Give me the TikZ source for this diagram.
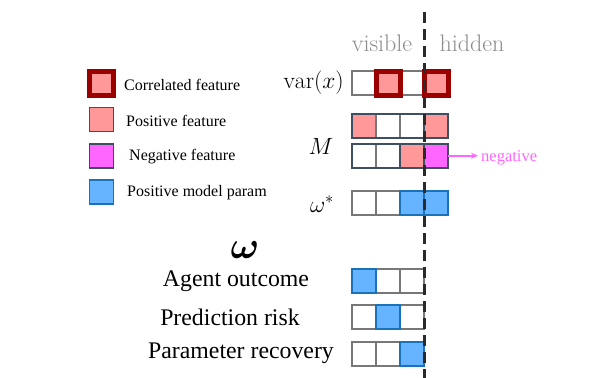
\RequirePackage{fix-cm}
\documentclass[tikz,border=0pt]{standalone}
\usepackage{amsmath}
\usepackage{fontspec}
\newfontfamily\tnr{Liberation Serif}
\usepackage{tikz}
\usetikzlibrary{arrows.meta,positioning}
\definecolor{cGrey} {HTML}{777777}
\definecolor{cSlate}{HTML}{3F4F63}
\definecolor{cCorr} {HTML}{9B0000}
\definecolor{cPos}  {HTML}{FF9999}
\definecolor{cNeg}  {HTML}{FF66FF}
\definecolor{cParF} {HTML}{66B3FF}
\definecolor{cPar}  {HTML}{1A73B8}
\definecolor{cDiv}  {HTML}{2A2A2A}
\tikzset{
  cell/.style   ={draw=cGrey,fill=white,line width=1.8pt,minimum size=24pt,
                  inner sep=0pt,outer sep=0pt},
  corrbox/.style={cell,draw=cCorr,fill=cPos,line width=5pt},
  posbox/.style ={cell,draw=cSlate,fill=cPos},
  negbox/.style ={cell,draw=cSlate,fill=cNeg},
  parbox/.style ={cell,draw=cPar,fill=cParF},
  rowframe/.style={draw=cSlate,line width=1.8pt},
  legtxt/.style ={anchor=west,inner sep=0pt,font=\tnr\fontsize{16}{18}\selectfont},
  rowlbl/.style ={inner sep=0pt,font=\fontsize{23.5}{26}\selectfont},
  tasklbl/.style={inner sep=0pt,font=\tnr\fontsize{23.8}{26}\selectfont},
  sidelbl/.style={inner sep=0pt,text=black!45,font=\fontsize{24}{26}\selectfont},
  divider/.style={draw=cDiv,line width=3pt,dash pattern=on 11pt off 6pt},
}

\begin{document}
\begin{tikzpicture}[x=1pt,y=-1pt]
\useasboundingbox (0,0) rectangle (598,378);

% legend
\node[corrbox] (lgCorr) at (101.7,83.8) {};
\node[legtxt] (lgCorrT) at (124,85) {Correlated feature};
\node[posbox] (lgPos) at (101.5,119.5) {};
\node[legtxt] (lgPosT) at (126,121) {Positive feature};
\node[negbox] (lgNeg) at (101.5,155.8) {};
\node[legtxt] (lgNegT) at (129,157) {Negative feature};
\node[parbox] (lgPar) at (101.5,191.7) {};
\node[legtxt] (lgParT) at (127,193) {Positive model param};

% column headers
\node[sidelbl] (visT) at (382,43) {visible};
\node[sidelbl] (hidT) at (472,43) {hidden};

% var(x)
\node[rowlbl,anchor=east] (varT) at (344,83) {$\mathrm{var}(x)$};
\foreach \k/\s in {1/cell,3/cell,2/corrbox,4/corrbox}
  \node[\s] (var\k) at (340.3+24*\k,83.3) {};

% M, two rows
\node[rowlbl] (mT) at (321,146) {$M$};
\foreach \k/\s in {1/posbox,2/cell,3/cell,4/posbox}
  \node[\s] (ma\k) at (340.3+24*\k,125.7) {};
\draw[rowframe] (ma1.north west) rectangle (ma4.south east);
\foreach \k/\s in {1/cell,2/cell,3/posbox,4/negbox}
  \node[\s] (mb\k) at (340.3+24*\k,155.7) {};
\draw[rowframe] (mb1.north west) rectangle (mb4.south east);

\node[inner sep=0pt,text=cNeg,font=\tnr\fontsize{16.5}{18}\selectfont,anchor=west]
  (negT) at (481,158) {negative};
\draw[-{Stealth[length=7pt,width=6pt]},draw=cNeg,fill=cNeg,line width=1.6pt,
  shorten >=3pt] (mb4.east) -- (mb4.east -| negT.west);

% omega*
\node[rowlbl] (wsT) at (322,204) {$\omega^*$};
\foreach \k/\s in {1/cell,2/cell,3/parbox,4/parbox}
  \node[\s] (ws\k) at (340.3+24*\k,203.3) {};

% omega and its three tasks
\node[inner sep=0pt,font=\fontsize{38}{40}\selectfont] (wT) at (245,250)
  {$\boldsymbol{\omega}$};
\node[tasklbl] (agT) at (236,281) {Agent outcome};
\node[tasklbl] (prT) at (230,317) {Prediction risk};
\node[tasklbl] (rcT) at (241,353) {Parameter recovery};
\foreach \k/\s in {2/cell,3/cell,1/parbox}
  \node[\s] (ag\k) at (340.3+24*\k,281.3) {};
\foreach \k/\s in {1/cell,3/cell,2/parbox}
  \node[\s] (pr\k) at (340.3+24*\k,316.8) {};
\foreach \k/\s in {1/cell,2/cell,3/parbox}
  \node[\s] (rc\k) at (340.3+24*\k,353.7) {};

% split between visible and hidden features
\coordinate (divTop) at (424,12);
\coordinate (divBot) at (424,378);
\draw[divider] (divTop) -- (divBot);
\end{tikzpicture}
\end{document}
